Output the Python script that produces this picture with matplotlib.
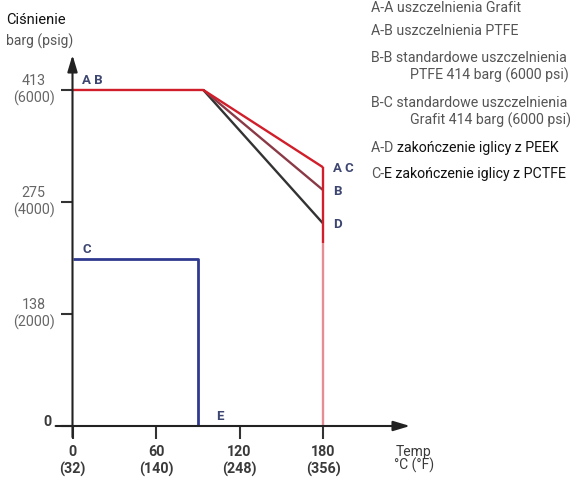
import matplotlib
matplotlib.use("Agg")
import matplotlib.pyplot as plt

plt.rcParams["font.family"] = ["Liberation Sans Narrow", "Roboto", "DejaVu Sans"]

# Temperature (°C) and pressure (barg) curves
temp_ticks = [0, 60, 120, 180]
temp_labels = ["0\n(32)", "60\n(140)", "120\n(248)", "180\n(356)"]
pres_ticks = [0, 138, 275, 413]
pres_labels = ["", "138\n(2000)", "275\n(4000)", "413\n(6000)"]

curve_a_t = [0, 94, 180]
curve_a_p = [413, 413, 318]
curve_b_t = [94, 180]
curve_b_p = [413, 290]
curve_d_t = [94, 180]
curve_d_p = [413, 249]
limit_upper_t = [180, 180]
limit_upper_p = [318, 225]
limit_lower_t = [180, 180]
limit_lower_p = [225, 0]
curve_c_t = [0, 90, 90]
curve_c_p = [205, 205, 0]

# point letters: left ones sit above their line, right ones beside the end points
left_labels = ["A B", "C", "E"]
left_t = [7, 7, 103]
left_p = [413, 205, 0]
right_labels = ["A C", "B", "D"]
right_t = [187, 187, 187]
right_p = [318, 290, 249]

GRAY, BLACK = "#555555", "#111111"
legend_lines = [
    [("A-A uszczelnienia Grafit", GRAY)],
    [("A-B uszczelnienia PTFE", GRAY)],
    [("B-B standardowe uszczelnienia", GRAY)],
    [("PTFE 414 barg (6000 psi)", GRAY)],
    [("B-C standardowe uszczelnienia", GRAY)],
    [("Grafit 414 barg (6000 psi)", GRAY)],
    [("A-D ", GRAY), ("zakończenie iglicy z PEEK", BLACK)],
    [("C-", GRAY), ("E zakończenie iglicy z PCTFE", BLACK)],
]
legend_x = [371, 371, 371, 410, 371, 410, 371, 371]
legend_y = [8, 31, 58, 75, 103, 120, 148, 174]

fig = plt.figure(figsize=(5.77, 4.9), dpi=100)
W, H = 577, 490
ax = fig.add_axes([72.5 / W, 64 / H, (410 - 72.5) / W, (426 - 55) / H])
ax.set_xlim(0, 242.5)
ax.set_ylim(0, 456)
for s in ax.spines.values():
    s.set_visible(False)

lw = 1.7
ax.plot(curve_d_t, curve_d_p, color="#333333", lw=lw, solid_capstyle="butt")
ax.plot(curve_b_t, curve_b_p, color="#8a3a46", lw=lw, solid_capstyle="butt")
ax.plot(curve_a_t, curve_a_p, color="#d01f2b", lw=lw, solid_capstyle="butt")
ax.plot(limit_lower_t, limit_lower_p, color="#e68d93", lw=lw, solid_capstyle="butt")
ax.plot(limit_upper_t, limit_upper_p, color="#d01f2b", lw=lw, solid_capstyle="butt")
ax.plot(curve_c_t, curve_c_p, color="#2f3a8f", lw=lw + 0.3, solid_capstyle="butt")

# axes drawn as arrows
arrow = dict(arrowstyle="-|>,head_length=1.0,head_width=0.3", color="#222222",
             lw=1.5, shrinkA=0, shrinkB=0)
ax.annotate("", xy=(0, 1), xytext=(0, -0.03), xycoords="axes fraction", arrowprops=arrow)
ax.annotate("", xy=(1, 0), xytext=(-0.05, 0), xycoords="axes fraction", arrowprops=arrow)

ax.set_xticks(temp_ticks)
ax.set_xticklabels(temp_labels, fontsize=10.3, fontweight="bold", color="#3a3a3a",
                   linespacing=1.2)
ax.set_yticks(pres_ticks)
ax.set_yticklabels(pres_labels, fontsize=10.3, color="#666666", linespacing=1.25,
                   ha="center", va="center")
ax.tick_params(axis="x", length=9, width=1.5, color="#333333", pad=5)
ax.tick_params(axis="y", length=9, width=1.5, color="#333333", pad=19)
ax.annotate("0", xy=(0, 0), xytext=(-15, 3), xycoords=ax.get_yaxis_transform(),
            textcoords="offset points", ha="right", va="center", fontsize=10.3,
            fontweight="bold", color="#3a3a3a")

letter_style = dict(fontsize=9.5, fontweight="bold", color="#3d4670", ha="left")
for lbl, t, p in zip(left_labels, left_t, left_p):
    ax.annotate(lbl, xy=(t, p), xytext=(0, 2.5), textcoords="offset points",
                va="bottom", **letter_style)
for lbl, t, p in zip(right_labels, right_t, right_p):
    ax.annotate(lbl, xy=(t, p), xytext=(0, -1), textcoords="offset points",
                va="center", **letter_style)

fig.text(414 / W, 1 - 445 / H, "Temp\n°C (°F)", fontsize=10, color="#3a3a3a",
         ha="center", va="top", linespacing=0.85)
fig.text(6 / W, 1 - 20 / H, "Ciśnienie", fontsize=10.5, color=BLACK, va="center")
fig.text(6 / W, 1 - 41 / H, "barg (psig)", fontsize=10, color=GRAY, va="center")

r = fig.canvas.get_renderer()
for parts, x, y in zip(legend_lines, legend_x, legend_y):
    for txt, col in parts:
        t = fig.text(x / W, 1 - y / H, txt, fontsize=10.2, color=col, va="center")
        x += t.get_window_extent(r).width

fig.savefig("out.png", dpi=100)
